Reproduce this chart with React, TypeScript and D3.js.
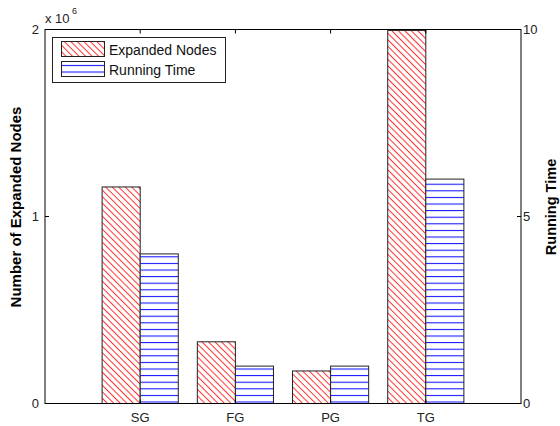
import * as d3 from 'd3';

const categories = ['SG', 'FG', 'PG', 'TG'];
const expandedNodes = [1.158e6, 0.33e6, 0.174e6, 1.995e6];
const runningTime = [4.0, 1.0, 1.0, 6.0];
const leftTicks = [0, 1e6, 2e6];
const leftTickLabels = ['0', '1', '2'];
const rightTicks = [0, 5, 10];
const seriesNames = ['Expanded Nodes', 'Running Time'];

const W = 560;
const H = 426;
const left = 45;
const right = 521;
const top = 29.5;
const bottom = 403.5;
const font = 'Arial, "Liberation Sans", Helvetica, sans-serif';

function App() {
  const x = d3.scaleLinear().domain([0, categories.length + 1]).range([left, right]);
  const yL = d3.scaleLinear().domain([0, 2e6]).range([bottom, top]);
  const yR = d3.scaleLinear().domain([0, 10]).range([bottom, top]);
  const barW = x(0.4) - x(0);
  const midY = 207;

  return (
    <svg width={W} height={H} style={{ position: 'absolute', left: 0, top: 0 }}>
      <defs>
        <pattern id="redHatch" patternUnits="userSpaceOnUse" width="4.6" height="4.6"
          patternTransform="rotate(45)">
          <rect width="4.6" height="4.6" fill="#fff" />
          <line x1="0" x2="4.6" y1="2.3" y2="2.3" stroke="#ff3030" strokeWidth="1" />
        </pattern>
        <pattern id="blueHatch" patternUnits="userSpaceOnUse" width="10" height="6.6"
          patternTransform={`translate(0, ${bottom - 2})`}>
          <rect width="10" height="6.6" fill="#fff" />
          <line x1="0" x2="10" y1="0.5" y2="0.5" stroke="#1010ff" strokeWidth="1.1" />
        </pattern>
      </defs>

      <rect x={0} y={0} width={W} height={H} fill="#fff" />

      {/* bars */}
      {categories.map((c, i) => (
        <g key={c}>
          <rect x={x(i + 1) - barW} y={yL(expandedNodes[i])} width={barW}
            height={bottom - yL(expandedNodes[i])} fill="url(#redHatch)" stroke="#222" strokeWidth="1" />
          <rect x={x(i + 1)} y={yR(runningTime[i])} width={barW}
            height={bottom - yR(runningTime[i])} fill="url(#blueHatch)" stroke="#222" strokeWidth="1" />
        </g>
      ))}

      {/* axes box */}
      <rect x={left} y={top} width={right - left} height={bottom - top} fill="none" stroke="#000" strokeWidth="1" />

      {/* top / bottom ticks at categories */}
      {categories.map((c, i) => (
        <g key={'t' + c}>
          <line x1={x(i + 1)} x2={x(i + 1)} y1={top} y2={top + 4} stroke="#000" />
          <line x1={x(i + 1)} x2={x(i + 1)} y1={bottom} y2={bottom - 4} stroke="#000" />
          <text x={x(i + 1)} y={bottom + 18} textAnchor="middle" fontFamily={font} fontSize="13" fill="#222">{c}</text>
        </g>
      ))}

      {/* left axis */}
      {leftTicks.map((t, i) => (
        <g key={'l' + t}>
          <line x1={left} x2={left + 4} y1={yL(t)} y2={yL(t)} stroke="#000" />
          <text x={left - 6} y={yL(t) + 4.5} textAnchor="end" fontFamily={font} fontSize="13" fill="#222">{leftTickLabels[i]}</text>
        </g>
      ))}
      <text x={left} y={23} fontFamily={font} fontSize="13" fill="#222">x 10</text>
      <text x={left + 27} y={14} fontFamily={font} fontSize="9" fill="#222">6</text>

      {/* right axis */}
      {rightTicks.map(t => (
        <g key={'r' + t}>
          <line x1={right} x2={right - 4} y1={yR(t)} y2={yR(t)} stroke="#000" />
          <text x={right + 2} y={yR(t) + 4.5} textAnchor="start" fontFamily={font} fontSize="13" fill="#222">{t}</text>
        </g>
      ))}

      {/* axis titles */}
      <text transform={`translate(21, ${midY}) rotate(-90)`} textAnchor="middle"
        fontFamily={font} fontSize="15" fontWeight="bold" fill="#000">Number of Expanded Nodes</text>
      <text transform={`translate(556, ${midY}) rotate(-90)`} textAnchor="middle"
        fontFamily={font} fontSize="14.5" fontWeight="bold" fill="#000">Running Time</text>

      {/* legend */}
      <rect x={52.5} y={37.5} width={173} height={45} fill="#fff" stroke="#222" strokeWidth="1" />
      <rect x={61.5} y={41.5} width={43} height={15} fill="url(#redHatch)" stroke="#222" />
      <rect x={61.5} y={61.5} width={43} height={15} fill="url(#blueHatch)" stroke="#222" />
      <text x={109} y={54.5} fontFamily={font} fontSize="14" fill="#111">{seriesNames[0]}</text>
      <text x={109} y={74.5} fontFamily={font} fontSize="14" fill="#111">{seriesNames[1]}</text>
    </svg>
  );
}

export default App;
